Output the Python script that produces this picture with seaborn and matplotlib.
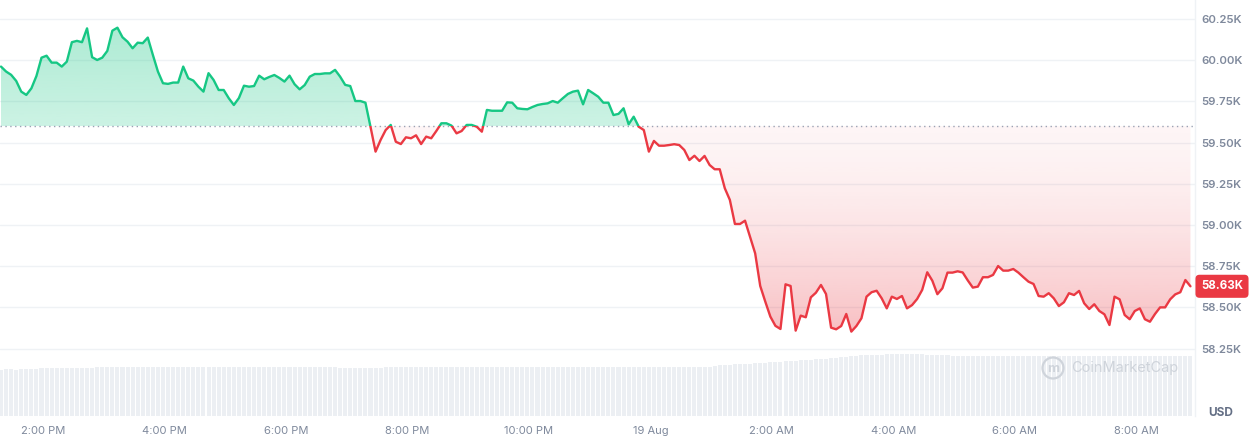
"""Recreates a CoinMarketCap style 24h BTC price chart with a volume strip"""
import numpy as np
import pandas as pd
import matplotlib
matplotlib.use("Agg")
import matplotlib.pyplot as plt
import matplotlib.dates as mdates
import matplotlib.transforms as mtransforms
from matplotlib.colors import to_rgb
from matplotlib.patches import Rectangle, PathPatch, Ellipse
from matplotlib.path import Path
import seaborn as sns


X_START = "2024-08-18 13:17:30"
X_END = "2024-08-19 08:58:00"
FIRST_CLOSE = "2024-08-18 13:18:30"
BASELINE = 59600

# 5 minute closes, USD
PRICES = [
    59961, 59931, 59911, 59874, 59809, 59789, 59829, 59904, 60015, 60027,
    59985, 59985, 59961, 59991, 60109, 60117, 60109, 60193, 60018, 60001,
    60015, 60056, 60179, 60197, 60139, 60112, 60072, 60106, 60103, 60137,
    60032, 59931, 59860, 59856, 59864, 59864, 59961, 59890, 59876, 59839,
    59809, 59921, 59880, 59819, 59819, 59769, 59728, 59770, 59845, 59839,
    59843, 59906, 59884, 59898, 59910, 59892, 59870, 59906, 59854, 59823,
    59849, 59900, 59916, 59916, 59920, 59920, 59941, 59900, 59850, 59843,
    59752, 59752, 59742, 59596, 59445, 59516, 59576, 59607, 59505, 59491,
    59532, 59526, 59544, 59491, 59536, 59526, 59570, 59617, 59617, 59603,
    59556, 59570, 59607, 59607, 59596, 59566, 59698,
    59693, 59693, 59693, 59744, 59742, 59708, 59704, 59702, 59716, 59728,
    59734, 59738, 59752, 59742, 59769, 59795, 59809, 59815, 59732, 59819,
    59799, 59778, 59742, 59742, 59667, 59674, 59708, 59611, 59657, 59596,
    59576, 59445, 59510, 59481, 59481, 59485, 59490, 59485, 59455, 59394,
    59420, 59388, 59419, 59364, 59338, 59338, 59223, 59152, 59006, 59006,
    59026, 58927, 58828, 58630, 58535, 58444, 58388, 58369, 58640, 58630,
    58359, 58450, 58440, 58561, 58589, 58636, 58581, 58377, 58367, 58387,
    58460, 58353, 58387, 58434, 58565, 58592, 58601, 58555, 58494, 58565,
    58551, 58569, 58494, 58514, 58551, 58606, 58713, 58662, 58580, 58616,
    58711, 58711, 58719, 58712, 58664, 58620, 58626, 58683, 58683, 58697,
    58751, 58723, 58723, 58733, 58711, 58683, 58656, 58642, 58569, 58565,
    58586, 58555, 58508, 58531, 58586, 58575, 58600, 58525, 58490, 58519,
    58478, 58458, 58393, 58565, 58549, 58454, 58428, 58478, 58494, 58428,
    58413, 58460, 58500, 58500, 58549, 58579, 58592, 58666, 58628,
]

# rolling 24h volume, billions USD
VOLUMES = [
    23.2, 23.3, 23.3, 23.2, 23.3, 23.4, 23.3, 23.4, 23.9, 24.0, 24.0, 24.1,
    24.0, 24.0, 24.1, 24.0, 24.0, 24.1, 24.1, 24.5, 24.5, 24.6, 24.5, 24.5,
    24.6, 24.5, 24.5, 24.4, 24.5, 24.6, 24.6, 24.5, 24.5, 24.5, 24.6, 24.5,
    24.5, 24.4, 24.5, 24.5, 24.6, 24.5, 24.5, 24.6, 24.6, 24.5, 24.5, 24.5,
    24.4, 24.5, 24.5, 24.6, 24.5, 24.5, 24.5, 24.6, 24.5, 24.5, 24.4, 24.5,
    24.5, 24.6, 24.5, 24.5, 24.5, 24.6, 24.5, 24.0, 24.0, 23.9, 24.0, 24.1,
    24.0, 24.0, 23.9, 24.0, 24.5, 24.5, 24.6, 24.5, 24.5, 24.6, 24.5, 24.5,
    24.6, 24.5, 24.5, 24.5, 24.6, 24.6, 24.5, 24.5, 24.5, 24.6, 24.5, 24.5,
    24.5, 24.6, 24.5, 24.5, 24.6, 24.6, 24.5, 24.5, 24.6, 24.5, 24.5, 24.6,
    24.6, 24.5, 24.5, 24.6, 24.5, 24.5, 24.6, 24.6, 24.5, 24.6, 24.6, 24.5,
    24.6, 24.6, 24.7, 24.6, 24.7, 24.7, 24.6, 24.7, 24.7, 24.6, 24.7, 24.7,
    24.7, 24.6, 24.7, 24.7, 24.7, 24.6, 24.7, 24.7, 24.7, 24.8, 25.3, 25.5,
    25.7, 25.8, 26.0, 26.1, 26.2, 26.4, 26.5, 26.6, 26.8, 27.0, 27.1, 27.3,
    27.5, 27.7, 27.8, 28.0, 28.2, 28.3, 28.5, 28.7, 28.9, 29.1, 29.3, 29.6,
    29.8, 30.1, 30.3, 30.4, 30.5, 30.6, 30.7, 30.8, 30.8, 30.9, 30.8, 30.8,
    30.8, 30.8, 30.9, 30.7, 30.7, 30.6, 30.5, 30.3, 30.2, 30.0, 30.0, 30.0,
    30.1, 30.0, 30.0, 30.0, 29.9, 30.0, 30.0, 30.1, 30.0, 30.0, 30.0, 30.1,
    30.0, 30.0, 29.9, 30.0, 30.0, 30.0, 30.1, 30.0, 30.0, 30.0, 30.0, 30.1,
    30.0, 30.0, 30.0, 29.9, 30.0, 30.0, 30.1, 30.0, 30.0, 30.0, 30.0, 30.0,
    30.1, 30.0, 30.0, 30.0, 29.9, 30.0, 30.0, 30.0,
]

Y_TICKS = [58250, 58500, 58750, 59000, 59250, 59500, 59750, 60000, 60250]
Y_TICK_LABELS = ["58.25K", "58.50K", "58.75K", "59.00K", "59.25K",
                 "59.50K", "59.75K", "60.00K", "60.25K"]
X_TICKS = ["2024-08-18 14:00", "2024-08-18 16:00", "2024-08-18 18:00",
           "2024-08-18 20:00", "2024-08-18 22:00", "2024-08-19 00:00",
           "2024-08-19 02:00", "2024-08-19 04:00", "2024-08-19 06:00",
           "2024-08-19 08:00"]
X_TICK_LABELS = ["2:00 PM", "4:00 PM", "6:00 PM", "8:00 PM", "10:00 PM",
                 "19 Aug", "2:00 AM", "4:00 AM", "6:00 AM", "8:00 AM"]

GREEN = "#16c784"
RED = "#ea3943"
GRID = "#eff2f5"
LABEL = "#7f899c"


def gradient(color, top_alpha, bottom_alpha, power=1.0):
    """Vertical RGBA gradient, row 0 is the top"""
    img = np.zeros((256, 1, 4))
    img[..., :3] = to_rgb(color)
    f = np.linspace(0, 1, 256) ** power
    img[:, 0, 3] = top_alpha + (bottom_alpha - top_alpha) * f
    return img


def plot_chart():
    sns.set_theme(style="white")
    plt.rcParams["font.family"] = ["Inter", "DejaVu Sans"]

    times = pd.date_range(FIRST_CLOSE, periods=len(PRICES), freq="5min")
    xs = mdates.date2num(times)
    x_lim = (mdates.date2num(pd.Timestamp(X_START)), mdates.date2num(pd.Timestamp(X_END)))
    y_lim = (57841, 60365)

    fig = plt.figure(figsize=(12.58, 4.42), dpi=100)
    rect = [0, 26 / 442, 1195 / 1258, 416 / 442]
    ax_vol = fig.add_axes(rect)
    ax = fig.add_axes(rect)
    ax.patch.set_visible(False)

    # volume strip
    ax_vol.bar(xs, VOLUMES, width=0.8 * 5 / 1440, color="#eceff3", linewidth=0)
    ax_vol.set_xlim(*x_lim)
    ax_vol.set_ylim(0, 208)
    ax_vol.axis("off")

    # gradient fills clipped to the area between price and baseline
    fill = ax.fill_between(xs, PRICES, BASELINE, facecolor="none", edgecolor="none")
    clip = PathPatch(Path.make_compound_path(*fill.get_paths()),
                     transform=ax.transData, facecolor="none", edgecolor="none")
    ax.add_patch(clip)
    im_g = ax.imshow(gradient(GREEN, 0.36, 0.22), extent=[xs[0], xs[-1], BASELINE, 60250],
                     aspect="auto", interpolation="bilinear", zorder=1)
    im_g.set_clip_path(clip)
    im_r = ax.imshow(gradient(RED, 0.05, 0.36, power=1.6), extent=[xs[0], xs[-1], 58250, BASELINE],
                     aspect="auto", interpolation="bilinear", zorder=1)
    im_r.set_clip_path(clip)

    ax.axhline(BASELINE, color="#9aa2b4", lw=1, ls=(0, (1, 2.5)), zorder=2)

    # line, green above the open and red below it
    sns.lineplot(x=xs, y=PRICES, ax=ax, color=GREEN, lw=1.7, zorder=3)
    ax.lines[-1].set_clip_path(Rectangle((xs[0] - 1, BASELINE), 3, 5000, transform=ax.transData))
    sns.lineplot(x=xs, y=PRICES, ax=ax, color=RED, lw=1.7, zorder=3)
    ax.lines[-1].set_clip_path(Rectangle((xs[0] - 1, BASELINE - 5000), 3, 5000, transform=ax.transData))

    ax.set_xlim(*x_lim)
    ax.set_ylim(*y_lim)

    ax.set_yticks(Y_TICKS)
    ax.set_yticklabels(Y_TICK_LABELS)
    ax.yaxis.tick_right()
    ax.yaxis.grid(True, color=GRID, lw=1)
    ax.set_axisbelow(True)
    ax.tick_params(axis="y", length=0, pad=4.5, labelsize=8.2, labelcolor=LABEL)
    for lab in ax.get_yticklabels():
        lab.set_fontweight("semibold")

    ax.set_xticks(mdates.date2num(pd.to_datetime(X_TICKS)))
    ax.set_xticklabels(X_TICK_LABELS)
    ax.tick_params(axis="x", length=0, pad=7, labelsize=8.0, labelcolor=LABEL)
    ax.set_xlabel("")
    ax.set_ylabel("")

    for side in ["top", "left", "bottom"]:
        ax.spines[side].set_visible(False)
    ax.spines["right"].set_color(GRID)
    ax.spines["right"].set_linewidth(1)

    # current price tag
    tag = f"{PRICES[-1] / 1000:.2f}K"
    ax.text(1 + 6 / 1195, PRICES[-1], tag,
            transform=mtransforms.blended_transform_factory(ax.transAxes, ax.transData),
            ha="left", va="center", fontsize=8.3, fontweight="bold", color="white",
            clip_on=False, zorder=5,
            bbox=dict(boxstyle="round,pad=0.48,rounding_size=0.35", fc=RED, ec="none"))

    fig.text(1221 / 1258, 1 - 413 / 442, "USD", ha="center", va="center",
             fontsize=8.5, fontweight="bold", color="#646f85")

    # watermark
    wm = "#cfd4db"
    fig.text(1071 / 1258, 1 - 368 / 442, "CoinMarketCap", ha="left", va="center",
             fontsize=10.5, color=wm)
    fig.add_artist(Ellipse((1053 / 1258, 1 - 368 / 442), 21 / 1258, 21 / 442,
                           transform=fig.transFigure, fill=False, ec=wm, lw=1.6))
    fig.text(1053 / 1258, 1 - 368.5 / 442, "m", ha="center", va="center",
             fontsize=9.5, color=wm, fontweight="bold")

    fig.savefig("out.png", dpi=100)


if __name__ == "__main__":
    plot_chart()
